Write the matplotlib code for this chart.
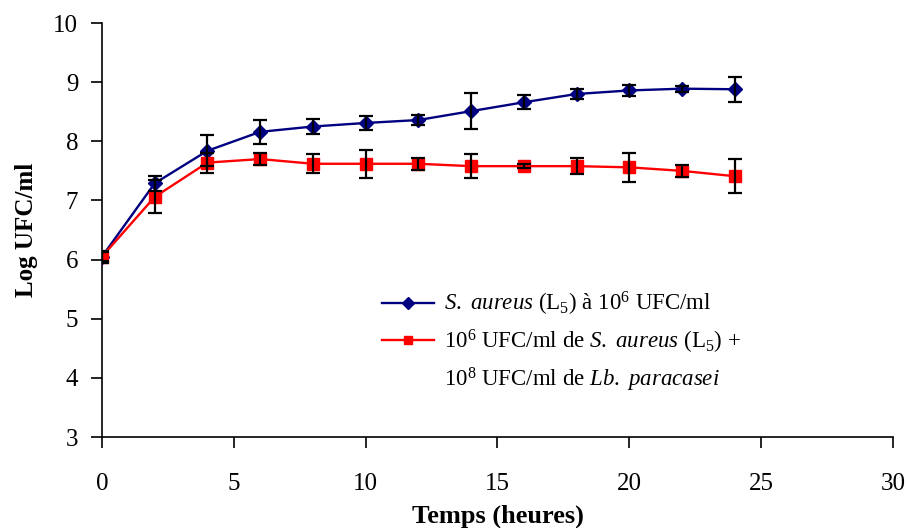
import matplotlib
matplotlib.use('Agg')
import matplotlib.pyplot as plt
from matplotlib.lines import Line2D

plt.rcParams['font.family'] = ['Liberation Serif', 'DejaVu Serif']
plt.rcParams['mathtext.fontset'] = 'custom'
plt.rcParams['mathtext.rm'] = 'Liberation Serif'
plt.rcParams['mathtext.it'] = 'Liberation Serif:italic'

# temps (heures)
temps = [0, 2, 4, 6, 8, 10, 12, 14, 16, 18, 20, 22, 24]

# S. aureus seul
aureus = [6.05, 7.29, 7.84, 8.16, 8.25, 8.31, 8.36, 8.51, 8.66, 8.80, 8.86, 8.89, 8.88]
aureus_err = [0.10, 0.13, 0.26, 0.20, 0.12, 0.12, 0.09, 0.30, 0.12, 0.09, 0.09, 0.05, 0.21]

# S. aureus + Lb. paracasei
mixte = [6.05, 7.06, 7.64, 7.70, 7.62, 7.62, 7.62, 7.58, 7.58, 7.58, 7.56, 7.50, 7.41]
mixte_err = [0.08, 0.28, 0.17, 0.10, 0.16, 0.24, 0.10, 0.20, 0.03, 0.14, 0.25, 0.10, 0.29]

lbl_aureus = r'$\it{S.}$ $\it{aureus}$ (L$_5$) à 10$^6$ UFC/ml'
lbl_mixte = r'10$^6$ UFC/ml de $\it{S.}$ $\it{aureus}$ (L$_5$) +'
lbl_mixte2 = r'10$^8$ UFC/ml de $\it{Lb.}$ $\it{paracasei}$'

fig = plt.figure(figsize=(9.08, 5.28), dpi=100)
ax = fig.add_axes([0.1123, 0.1723, 0.8712, 0.7841])

l1, = ax.plot(temps, aureus, color='#000080', lw=1.7, marker='D', ms=7.5, zorder=3)
ax.errorbar(temps, aureus, yerr=aureus_err, fmt='none', ecolor='black',
            elinewidth=1.6, capsize=4.7, capthick=1.6, zorder=4)
l2, = ax.plot(temps, mixte, color='#FF0000', lw=1.7, marker='s', ms=8, zorder=3)
ax.errorbar(temps, mixte, yerr=mixte_err, fmt='none', ecolor='black',
            elinewidth=1.6, capsize=4.7, capthick=1.6, zorder=4)

ax.set_xlim(0, 30)
ax.set_ylim(3, 10)
ax.set_xticks(range(0, 31, 5))
ax.set_yticks(range(3, 11))
for s in ['top', 'right']:
    ax.spines[s].set_visible(False)
for s in ['left', 'bottom']:
    ax.spines[s].set_linewidth(1.2)
ax.tick_params(direction='out', length=8, width=1.2, labelsize=18)
ax.tick_params(axis='y', pad=9)
ax.tick_params(axis='x', pad=18)

ax.set_xlabel('Temps (heures)', fontsize=19, fontweight='bold', labelpad=7)
ax.set_ylabel('Log UFC/ml', fontsize=18, fontweight='bold', labelpad=11)

blank = Line2D([], [], linestyle='none', marker='none')
leg = ax.legend([l1, l2, blank], [lbl_aureus, lbl_mixte, lbl_mixte2],
                loc='upper left', bbox_to_anchor=(0.328, 0.405), frameon=False,
                fontsize=16.5, handlelength=2.27, handletextpad=0.45,
                labelspacing=0.42, markerscale=0.8)

fig.savefig('out.png', dpi=100)
